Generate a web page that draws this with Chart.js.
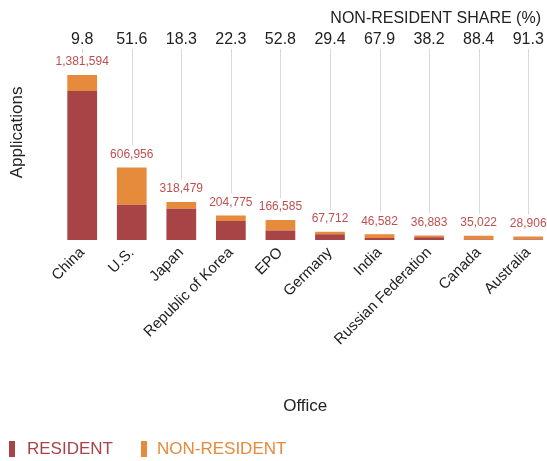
<!DOCTYPE html>
<html>
<head>
<meta charset="utf-8">
<script src="https://cdn.jsdelivr.net/npm/chart.js@4/dist/chart.umd.min.js"></script>
<style>
  html, body { margin: 0; padding: 0; background: #fff; overflow: hidden; }
  #wrap { width: 556px; height: 461px; position: relative; }
</style>
</head>
<body>
<div id="wrap"><canvas id="chart"></canvas></div>
<script>
// offices and values
const offices = ['China', 'U.S.', 'Japan', 'Republic of Korea', 'EPO', 'Germany', 'India', 'Russian Federation', 'Canada', 'Australia'];
const totals = [1381594, 606956, 318479, 204775, 166585, 67712, 46582, 36883, 35022, 28906];
const nonResidentShare = ['9.8', '51.6', '18.3', '22.3', '52.8', '29.4', '67.9', '38.2', '88.4', '91.3'];
const resident = [1246198, 293767, 260197, 159110, 78628, 47805, 14953, 22794, 4063, 2515];
const nonResident = [135396, 313189, 58282, 45665, 87957, 19907, 31629, 14089, 30959, 26391];

const RES_COLOR = '#a84446';
const NONRES_COLOR = '#e68a3c';
const FONT = "'Liberation Sans', Arial, sans-serif";

const labelsPlugin = {
    id: 'shareLabels',
    afterDatasetsDraw(chart) {
        const ctx = chart.ctx;
        const top = chart.getDatasetMeta(1).data;
        ctx.save();
        // header
        ctx.fillStyle = '#222';
        ctx.font = '16px ' + FONT;
        ctx.textAlign = 'right';
        ctx.textBaseline = 'middle';
        ctx.fillText('NON-RESIDENT SHARE (%)', 541, 19);

        ctx.textAlign = 'center';
        top.forEach((bar, i) => {
            const x = bar.x;
            const yTop = bar.y;
            // share label
            ctx.fillStyle = '#222';
            ctx.font = '16px ' + FONT;
            ctx.fillText(nonResidentShare[i], x, 40);
            // leader line
            const lineEnd = yTop - 22;
            if (lineEnd > 49) {
                ctx.strokeStyle = '#d9d9d9';
                ctx.lineWidth = 1;
                ctx.beginPath();
                ctx.moveTo(Math.round(x) + 0.5, 49);
                ctx.lineTo(Math.round(x) + 0.5, lineEnd);
                ctx.stroke();
            }
            // total label
            ctx.fillStyle = '#bf4f4f';
            ctx.font = '12px ' + FONT;
            ctx.fillText(totals[i].toLocaleString('en-US'), x, yTop - 13);
        });

        // legend
        ctx.textAlign = 'left';
        ctx.font = '17px ' + FONT;
        const items = [[9, 27, 'RESIDENT', RES_COLOR], [141, 157, 'NON-RESIDENT', NONRES_COLOR]];
        items.forEach(([bx, tx, txt, col]) => {
            ctx.fillStyle = col;
            ctx.fillRect(bx, 441, 6, 16);
            ctx.fillText(txt, tx, 449.5);
        });
        ctx.restore();
    }
};

new Chart(document.getElementById('chart'), {
    type: 'bar',
    data: {
        labels: offices,
        datasets: [
            { label: 'RESIDENT', data: resident, backgroundColor: RES_COLOR, borderWidth: 0 },
            { label: 'NON-RESIDENT', data: nonResident, backgroundColor: NONRES_COLOR, borderWidth: 0 }
        ]
    },
    options: {
        responsive: true,
        maintainAspectRatio: false,
        animation: false,
        datasets: { bar: { categoryPercentage: 1, barPercentage: 0.6 } },
        layout: { padding: { left: 3, right: 3, top: 25, bottom: 40 } },
        plugins: {
            legend: { display: false },
            tooltip: { enabled: false }
        },
        scales: {
            x: {
                stacked: true,
                grid: { display: false, drawTicks: false },
                border: { display: false },
                ticks: { color: '#222', font: { family: FONT, size: 15 }, minRotation: 45, maxRotation: 45, padding: 4 },
                title: { display: true, text: 'Office', color: '#222', font: { family: FONT, size: 17 }, padding: { top: 44, bottom: 4 } }
            },
            y: {
                stacked: true,
                min: 0,
                max: 1800000,
                grid: { display: false, drawTicks: false },
                border: { display: false },
                ticks: { display: false },
                title: { display: true, text: 'Applications', color: '#222', font: { family: FONT, size: 17 }, padding: { top: 4, bottom: 30 } }
            }
        }
    },
    plugins: [labelsPlugin]
});
</script>
</body>
</html>
